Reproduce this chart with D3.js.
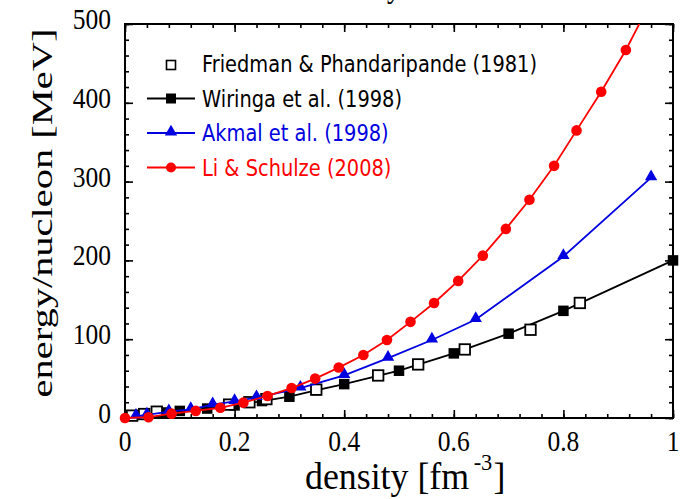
<!DOCTYPE html>
<html>
<head>
<meta charset="utf-8">
<script src="https://cdn.jsdelivr.net/npm/d3@7.9.0/dist/d3.min.js"></script>
<style>
  body { margin: 0; background: #fff; }
  svg { display: block; }
</style>
</head>
<body>
<svg id="chart" width="691" height="499"></svg>
<script>
// data: [density fm^-3, energy/nucleon MeV]
const friedman = [
  [0.013, 3], [0.035, 5], [0.058, 8], [0.19, 17], [0.227, 20], [0.258, 24],
  [0.349, 36], [0.462, 54], [0.535, 68], [0.62, 87], [0.74, 112], [0.83, 146]
];
const wiringa = [
  [0.07, 7], [0.1, 9], [0.15, 12], [0.2, 16], [0.25, 21.5], [0.3, 27],
  [0.35, 35.5], [0.4, 43], [0.5, 60], [0.6, 82], [0.7, 107], [0.8, 136], [1.0, 200]
];
const akmal = [
  [0.02, 2.5], [0.04, 4], [0.08, 8], [0.12, 11], [0.16, 17], [0.2, 21], [0.24, 26],
  [0.32, 38], [0.4, 54], [0.48, 76], [0.56, 99], [0.64, 125], [0.8, 205], [0.96, 305]
];
const liSchulze = [
  [0, 0], [0.043, 1], [0.085, 5.5], [0.129, 9], [0.174, 13], [0.216, 19.5],
  [0.26, 28], [0.304, 38], [0.347, 50], [0.39, 64], [0.435, 80], [0.478, 99],
  [0.521, 122], [0.564, 146], [0.608, 174], [0.653, 206], [0.695, 240],
  [0.738, 277], [0.783, 320], [0.824, 365], [0.869, 414], [0.914, 467], [0.957, 525]
];

const xTicks = [0, 0.2, 0.4, 0.6, 0.8, 1];
const xTickLabels = ["0", "0.2", "0.4", "0.6", "0.8", "1"];
const yTicks = [0, 100, 200, 300, 400, 500];
const yTickLabels = ["0", "100", "200", "300", "400", "500"];

const legendLabels = [
  "Friedman & Phandaripande (1981)",
  "Wiringa et al. (1998)",
  "Akmal et al.  (1998)",
  "Li & Schulze (2008)"
];

const RED = "#ff0000", BLUE = "#0000e0", BLACK = "#000";

const svg = d3.select("#chart");
const x = d3.scaleLinear().domain([0, 1]).range([125, 673]);
const y = d3.scaleLinear().domain([0, 500]).range([418, 24]);

const serif = "'Liberation Serif', 'Times New Roman', serif";
const sans = "'DejaVu Sans', 'Lucida Grande', sans-serif";

// clipped title, only the descender shows
svg.append("text")
  .attr("transform", "translate(394,-3) scale(1,1.2)")
  .attr("text-anchor", "middle")
  .style("font-family", serif).style("font-size", "28px")
  .text("y");

svg.append("defs").append("clipPath").attr("id", "plot-clip")
  .append("rect").attr("x", 0).attr("y", y(500)).attr("width", 691).attr("height", 499);

// ticks (inward, all four sides)
function tickAxis(axis, scale, values, size, tx, ty) {
  const g = svg.append("g").attr("transform", `translate(${tx},${ty})`)
    .call(axis(scale).tickValues(values).tickSize(size).tickFormat(""));
  g.select(".domain").remove();
  g.selectAll("line").attr("stroke", BLACK).attr("stroke-width", 1.6);
}
const xMinor = d3.range(0, 1.0001, 0.04);
const yMinor = d3.range(0, 500.1, 20);
tickAxis(d3.axisBottom, x, xMinor, -4, 0, y(0));
tickAxis(d3.axisBottom, x, xTicks, -8, 0, y(0));
tickAxis(d3.axisTop, x, xMinor, -4, 0, y(500));
tickAxis(d3.axisTop, x, xTicks, -8, 0, y(500));
tickAxis(d3.axisLeft, y, yMinor, -4, x(0), 0);
tickAxis(d3.axisLeft, y, yTicks, -8, x(0), 0);
tickAxis(d3.axisRight, y, yMinor, -4, x(1), 0);
tickAxis(d3.axisRight, y, yTicks, -8, x(1), 0);

svg.append("rect")
  .attr("x", x(0)).attr("y", y(500))
  .attr("width", x(1) - x(0)).attr("height", y(0) - y(500))
  .attr("fill", "none").attr("stroke", BLACK).attr("stroke-width", 2);

// tick labels
svg.append("g").selectAll("text").data(yTicks).join("text")
  .attr("transform", d => `translate(${x(0) - 14},${y(d) + 5}) scale(1,1.17)`)
  .attr("text-anchor", "end")
  .style("font-family", serif).style("font-size", "25.5px")
  .text((d, i) => yTickLabels[i]);

svg.append("g").selectAll("text").data(xTicks).join("text")
  .attr("transform", d => `translate(${x(d)},${y(0) + 33}) scale(1,1.17)`)
  .attr("text-anchor", "middle")
  .style("font-family", serif).style("font-size", "25.5px")
  .text((d, i) => xTickLabels[i]);

// axis titles
svg.append("text")
  .attr("transform", "translate(52,213) rotate(-90)")
  .attr("text-anchor", "middle")
  .attr("textLength", 369).attr("lengthAdjust", "spacingAndGlyphs")
  .style("font-family", serif).style("font-size", "30px")
  .text("energy/nucleon [MeV]");

const xt = svg.append("text")
  .attr("transform", "translate(305,489) scale(1.12,1.2)")
  .style("font-family", serif).style("font-size", "32px");
xt.append("tspan").text("density [fm");
xt.append("tspan").attr("dx", 4).attr("dy", -16).style("font-size", "20px").text("-3");
xt.append("tspan").attr("dx", 1).attr("dy", 16).text("]");

// series
const line = d3.line().x(d => x(d[0])).y(d => y(d[1]));
const inRange = d => d[1] <= 500;

function drawLine(data, color) {
  svg.append("path").datum(data)
    .attr("clip-path", "url(#plot-clip)")
    .attr("d", line).attr("fill", "none")
    .attr("stroke", color).attr("stroke-width", 1.8);
}

const sq = 10.5;
function squares(g, data, fill, stroke) {
  g.selectAll("rect").data(data).join("rect")
    .attr("x", d => x(d[0]) - sq / 2).attr("y", d => y(d[1]) - sq / 2)
    .attr("width", sq).attr("height", sq)
    .attr("fill", fill).attr("stroke", stroke).attr("stroke-width", stroke === "none" ? 0 : 1.8);
}
const tri = d3.symbol().type(d3.symbolTriangle).size(66);

drawLine(wiringa, BLACK);
squares(svg.append("g"), wiringa, BLACK, "none");
squares(svg.append("g"), friedman, "#fff", BLACK);

drawLine(akmal, BLUE);
svg.append("g").selectAll("path").data(akmal).join("path")
  .attr("transform", d => `translate(${x(d[0])},${y(d[1]) - 1})`)
  .attr("d", tri).attr("fill", BLUE);

drawLine(liSchulze, RED);
svg.append("g").selectAll("circle").data(liSchulze.filter(inRange)).join("circle")
  .attr("cx", d => x(d[0])).attr("cy", d => y(d[1]))
  .attr("r", 5.3).attr("fill", RED);

// legend
const legendColors = [BLACK, BLACK, BLUE, RED];
const baselines = [72, 106.5, 141, 175.5];
legendLabels.forEach((label, i) => {
  const c = legendColors[i];
  const ly = baselines[i] - 8;
  if (i > 0) {
    svg.append("line").attr("x1", 147).attr("x2", 195).attr("y1", ly).attr("y2", ly)
      .attr("stroke", c).attr("stroke-width", 1.8);
  }
  if (i === 0) {
    svg.append("rect").attr("x", 171 - 4.5).attr("y", ly - 4.5 + 1).attr("width", 9).attr("height", 9)
      .attr("fill", "#fff").attr("stroke", BLACK).attr("stroke-width", 1.6);
  } else if (i === 1) {
    svg.append("rect").attr("x", 171 - 5).attr("y", ly - 5).attr("width", 10).attr("height", 10).attr("fill", BLACK);
  } else if (i === 2) {
    svg.append("path").attr("transform", `translate(171,${ly - 1})`).attr("d", tri).attr("fill", c);
  } else {
    svg.append("circle").attr("cx", 171).attr("cy", ly).attr("r", 5).attr("fill", c);
  }
  svg.append("text")
    .attr("transform", `translate(202,${baselines[i]}) scale(1,1.17)`)
    .attr("fill", c)
    .style("font-family", sans).style("font-size", "19.4px")
    .text(label);
});
</script>
</body>
</html>
